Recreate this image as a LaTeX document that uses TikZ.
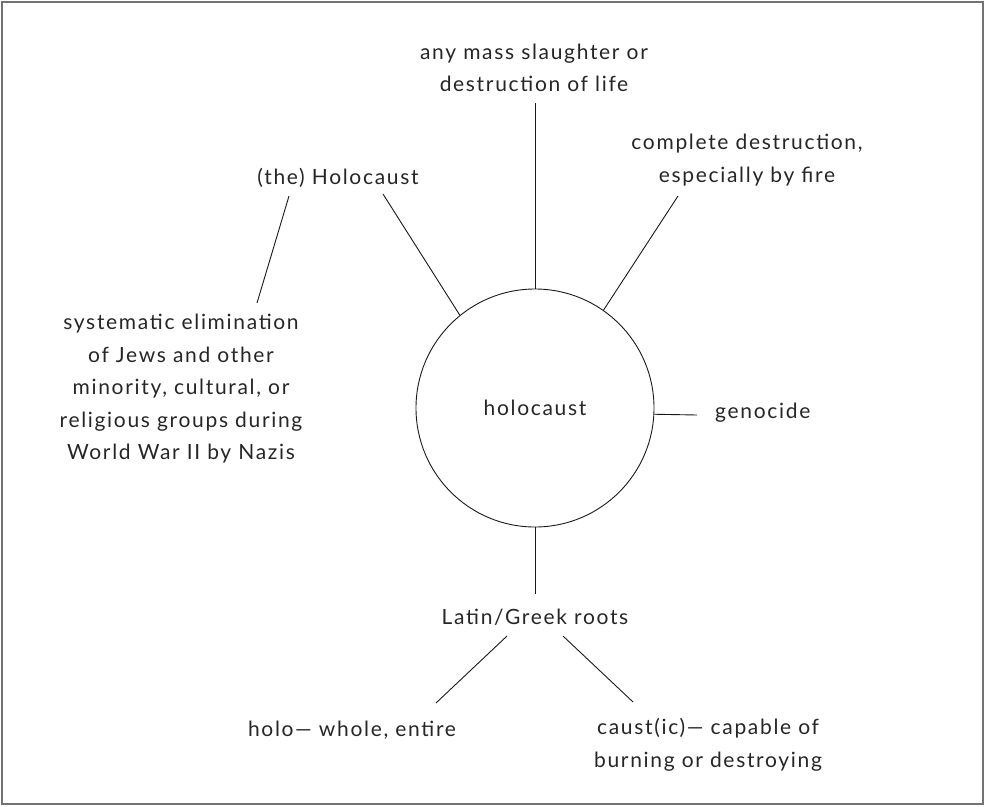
\documentclass[tikz,border=0pt]{standalone}
\usepackage{fontspec}
\setmainfont[LetterSpace=8]{Lato}
\begin{document}
\begin{tikzpicture}[x=1pt,y=-1pt,
  lbl/.style={align=center,inner sep=0pt,font=\fontsize{21}{32.5}\selectfont,text=black!85},
  conn/.style={draw=black!90,line width=0.9pt}]
\useasboundingbox (0,0) rectangle (985,806);
\draw[draw=black!55,line width=1.5pt] (2,2) rectangle (983,804);
\node[circle,draw=black!90,line width=0.9pt,minimum size=238pt,inner sep=0pt,lbl] (circ) at (535,408) {holocaust};
\node[lbl] (top) at (534,68) {any mass slaughter or\\destruction of life};
\node[lbl] (hol) at (338,178) {(the) Holocaust};
\node[lbl] (comp) at (747,160) {complete destruction,\\especially by fire};
\node[lbl,anchor=west] (geno) at (715,413) {genocide};
\node[lbl] (sys) at (181,389) {systematic elimination\\of Jews and other\\minority, cultural, or\\religious groups during\\World War II by Nazis};
\node[lbl] (roots) at (535,617) {Latin/Greek roots};
\node[lbl] (holo) at (352,730) {holo--- whole, entire};
\node[lbl] (caust) at (708,745) {caust(ic)--- capable of\\burning or destroying};
\coordinate (topend) at (535,103);
\coordinate (holA) at (383,194);
\coordinate (holB) at (289,196);
\coordinate (sysA) at (257,303);
\coordinate (compA) at (678,196);
\coordinate (genoA) at (697,415);
\coordinate (rootsA) at (535,594);
\coordinate (rootsL) at (507,636);
\coordinate (rootsR) at (563,636);
\coordinate (holoA) at (436,703);
\coordinate (caustA) at (633,702);
\draw[conn] (circ.north) -- (topend);
\draw[conn] (circ.129) -- (holA);
\draw[conn] (holB) -- (sysA);
\draw[conn] (circ.55) -- (compA);
\draw[conn] (circ.-3.4) -- (genoA);
\draw[conn] (circ.south) -- (rootsA);
\draw[conn] (rootsL) -- (holoA);
\draw[conn] (rootsR) -- (caustA);
\end{tikzpicture}
\end{document}
